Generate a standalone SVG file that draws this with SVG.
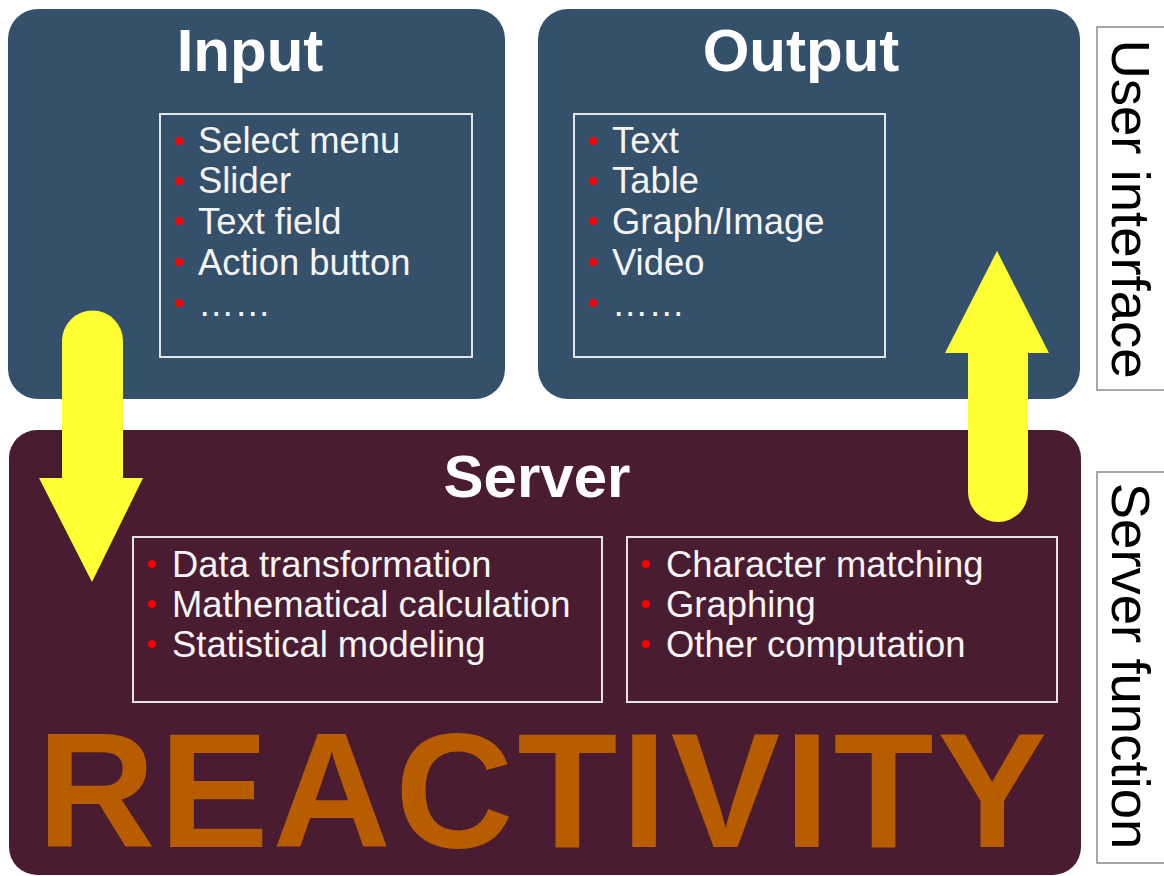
<svg xmlns="http://www.w3.org/2000/svg" width="1164" height="876" viewBox="0 0 1164 876">
  <style>
    .ui { fill: #34506a; }
    .srv { fill: #4a1c32; }
    .inner { fill: none; stroke: #e4e4e4; stroke-width: 2; }
    .title { font-family: "Liberation Sans", Arial, sans-serif; font-weight: bold; font-size: 60px; fill: #ffffff; text-anchor: middle; }
    .item { font-family: "Liberation Sans", Arial, sans-serif; font-size: 36.4px; fill: #f4f4f4; }
    .dot { fill: #ff0000; }
    .side { fill: #ffffff; stroke: #8a8a8a; stroke-width: 1.5; }
    .sidetext { font-family: "Liberation Sans", Arial, sans-serif; font-size: 54.5px; fill: #000000; text-anchor: middle; }
    .flow { fill: #ffff33; }
    .big { font-family: "Liberation Sans", Arial, sans-serif; font-weight: bold; font-size: 164px; fill: #b85c00; }
  </style>

  <rect x="0" y="0" width="1164" height="876" fill="#ffffff"/>

  <!-- Input panel -->
  <g id="input">
    <rect class="ui" x="8" y="9" width="497" height="390" rx="30"/>
    <text class="title" x="250" y="71">Input</text>
    <rect class="inner" x="160" y="114" width="312" height="243"/>
    <circle class="dot" cx="179" cy="141" r="4"/>
    <circle class="dot" cx="179" cy="181" r="4"/>
    <circle class="dot" cx="179" cy="221" r="4"/>
    <circle class="dot" cx="179" cy="262" r="4"/>
    <circle class="dot" cx="179" cy="303" r="4"/>
    <text class="item" x="198" y="153">Select menu</text>
    <text class="item" x="198" y="193">Slider</text>
    <text class="item" x="198" y="234">Text field</text>
    <text class="item" x="198" y="275">Action button</text>
    <text class="item" x="198" y="316">……</text>
  </g>

  <!-- Output panel -->
  <g id="output">
    <rect class="ui" x="538" y="9" width="542" height="390" rx="30"/>
    <text class="title" x="801" y="71">Output</text>
    <rect class="inner" x="574" y="114" width="311" height="243"/>
    <circle class="dot" cx="593" cy="141" r="4"/>
    <circle class="dot" cx="593" cy="181" r="4"/>
    <circle class="dot" cx="593" cy="221" r="4"/>
    <circle class="dot" cx="593" cy="262" r="4"/>
    <circle class="dot" cx="593" cy="303" r="4"/>
    <text class="item" x="612" y="153">Text</text>
    <text class="item" x="612" y="193">Table</text>
    <text class="item" x="612" y="234">Graph/Image</text>
    <text class="item" x="612" y="275">Video</text>
    <text class="item" x="612" y="316">……</text>
  </g>

  <!-- Server panel -->
  <g id="server">
    <rect class="srv" x="9" y="430" width="1072" height="445" rx="28"/>
    <text class="title" x="537" y="497">Server</text>
    <rect class="inner" x="133" y="537" width="469" height="165"/>
    <circle class="dot" cx="152" cy="564" r="4"/>
    <circle class="dot" cx="152" cy="604" r="4"/>
    <circle class="dot" cx="152" cy="644" r="4"/>
    <text class="item" x="172" y="577">Data transformation</text>
    <text class="item" x="172" y="617">Mathematical calculation</text>
    <text class="item" x="172" y="657">Statistical modeling</text>
    <rect class="inner" x="627" y="537" width="430" height="165"/>
    <circle class="dot" cx="646" cy="564" r="4"/>
    <circle class="dot" cx="646" cy="604" r="4"/>
    <circle class="dot" cx="646" cy="644" r="4"/>
    <text class="item" x="666" y="577">Character matching</text>
    <text class="item" x="666" y="617">Graphing</text>
    <text class="item" x="666" y="657">Other computation</text>
    <text class="big" x="37" y="847" textLength="1010" lengthAdjust="spacing">REACTIVITY</text>
  </g>

  <!-- Side labels -->
  <g id="label-ui">
    <rect class="side" x="1097" y="27" width="80" height="363"/>
    <text class="sidetext" transform="translate(1112,209) rotate(90)">User interface</text>
  </g>
  <g id="label-server">
    <rect class="side" x="1097" y="472" width="80" height="391"/>
    <text class="sidetext" transform="translate(1112,666) rotate(90)">Server function</text>
  </g>

  <!-- Flow arrows -->
  <g id="connectors">
    <path class="flow" d="M62,341 A30.5,30.5 0 0 1 123,341 L123,478 L143,478 L92,582 L39,478 L62,478 Z"/>
    <path class="flow" d="M968,492 L968,353 L945,353 L997,251 L1049,353 L1028,353 L1028,492 A30,30 0 0 1 968,492 Z"/>
  </g>
</svg>
